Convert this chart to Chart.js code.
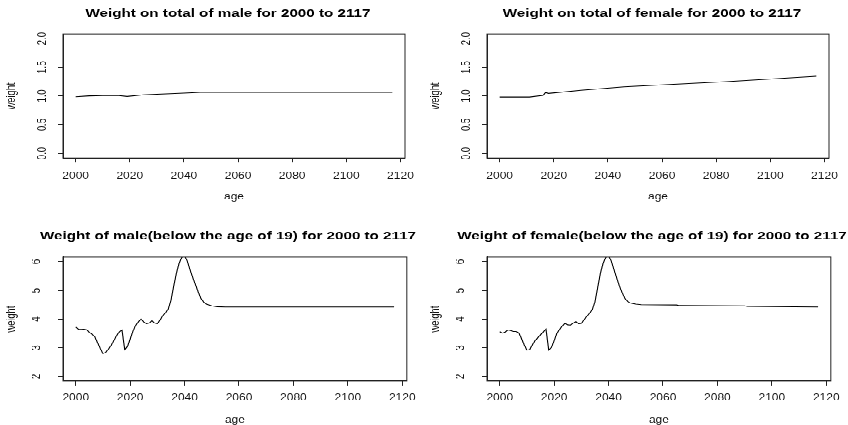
<!DOCTYPE html>
<html>
<head>
<meta charset="utf-8">
<script src="https://cdn.jsdelivr.net/npm/chart.js@4.4.1/dist/chart.umd.min.js"></script>
<style>
  html, body { margin: 0; padding: 0; background: #fff; }
  /* the reference is squashed vertically, so draw tall and scale down */
  #wrap { position: absolute; left: 0; top: 0; width: 848px; height: 552px;
          transform: scaleY(0.77); transform-origin: 0 0; }
  canvas { position: absolute; }
</style>
</head>
<body>
<div id="wrap">
  <canvas id="c1" width="424" height="276" style="left:0;top:0;width:424px;height:276px"></canvas>
  <canvas id="c2" width="424" height="276" style="left:424px;top:0;width:424px;height:276px"></canvas>
  <canvas id="c3" width="424" height="276" style="left:0;top:276px;width:424px;height:276px"></canvas>
  <canvas id="c4" width="424" height="276" style="left:424px;top:276px;width:424px;height:276px"></canvas>
</div>
<script>
const xTicks = [2000, 2020, 2040, 2060, 2080, 2100, 2120];
const totalTicks = [0, 0.5, 1, 1.5, 2];
const youngTicks = [2, 3, 4, 5, 6];

const maleTotalYears = [2000, 2005, 2010, 2016, 2019, 2025, 2035, 2040, 2046, 2117];
const maleTotalValues = [0.985, 1.0, 1.005, 1.005, 0.99, 1.02, 1.04, 1.05, 1.062, 1.062];

const femaleTotalYears = [2000, 2011, 2016, 2017, 2018, 2030, 2046, 2084, 2117];
const femaleTotalValues = [0.98, 0.98, 1.01, 1.06, 1.045, 1.10, 1.16, 1.25, 1.345];

const maleYoungYears = [2000, 2001, 2002, 2003, 2004, 2005, 2006, 2007, 2008, 2009,
  2010, 2011, 2012, 2013, 2014, 2015, 2016, 2017, 2018, 2019,
  2020, 2021, 2022, 2023, 2024, 2025, 2026, 2027, 2028, 2029,
  2030, 2031, 2032, 2033, 2034, 2035, 2036, 2037, 2038, 2039,
  2040, 2041, 2042, 2043, 2044, 2045, 2046, 2047, 2048, 2050,
  2052, 2055, 2117];
const maleYoungValues = [3.72, 3.65, 3.64, 3.65, 3.63, 3.54, 3.47, 3.38, 3.18, 2.98,
  2.80, 2.84, 2.95, 3.08, 3.25, 3.42, 3.55, 3.62, 2.94, 3.04,
  3.30, 3.57, 3.78, 3.90, 4.00, 3.90, 3.84, 3.86, 3.94, 3.86,
  3.84, 3.97, 4.12, 4.22, 4.35, 4.65, 5.15, 5.60, 5.95, 6.15,
  6.20, 6.02, 5.72, 5.45, 5.20, 4.95, 4.72, 4.60, 4.52, 4.46,
  4.43, 4.42, 4.42];

const femaleYoungYears = [2000, 2001, 2002, 2003, 2004, 2005, 2006, 2007, 2008, 2009,
  2010, 2011, 2012, 2013, 2014, 2015, 2016, 2017, 2018, 2019,
  2020, 2021, 2022, 2023, 2024, 2025, 2026, 2027, 2028, 2029,
  2030, 2031, 2032, 2033, 2034, 2035, 2036, 2037, 2038, 2039,
  2040, 2041, 2042, 2043, 2044, 2045, 2046, 2047, 2048, 2050,
  2052, 2065, 2066, 2090, 2091, 2117];
const femaleYoungValues = [3.56, 3.51, 3.55, 3.62, 3.60, 3.57, 3.57, 3.52, 3.32, 3.10,
  2.92, 2.94, 3.10, 3.25, 3.35, 3.45, 3.55, 3.65, 2.92, 3.01,
  3.25, 3.50, 3.64, 3.76, 3.85, 3.80, 3.79, 3.86, 3.91, 3.84,
  3.85, 3.98, 4.10, 4.20, 4.33, 4.60, 5.10, 5.60, 5.95, 6.15,
  6.20, 6.02, 5.72, 5.43, 5.15, 4.92, 4.72, 4.62, 4.56, 4.52,
  4.50, 4.49, 4.47, 4.46, 4.44, 4.42];

const FONT = "'Liberation Sans', Arial, sans-serif";

// R style box round the plot region
const boxPlugin = {
  id: "box",
  afterDraw(chart) {
    const a = chart.chartArea;
    const ctx = chart.ctx;
    ctx.save();
    ctx.strokeStyle = "#222";
    ctx.lineWidth = 1;
    ctx.strokeRect(a.left, a.top, a.right - a.left, a.bottom - a.top);
    ctx.restore();
  }
};

// left padding 32 so the title centres over the plot box (R centres it there)
function makePanel(id, title, years, values, opt) {
  const points = years.map((y, i) => ({ x: y, y: values[i] }));
  return new Chart(document.getElementById(id), {
    type: "line",
    data: {
      datasets: [{
        data: points,
        borderColor: "#000",
        borderWidth: 1.1,
        pointRadius: 0,
        tension: 0,
        fill: false
      }]
    },
    options: {
      responsive: false,
      animation: false,
      events: [],
      layout: { padding: { left: 32, right: 0, top: 0, bottom: 0 } },
      plugins: {
        legend: { display: false },
        tooltip: { enabled: false },
        title: {
          display: true,
          text: title,
          color: "#000",
          font: { family: FONT, size: 15.2, weight: "bold", lineHeight: 1.2 },
          padding: { top: opt.titleTop, bottom: opt.titleBottom }
        }
      },
      scales: {
        x: {
          type: "linear",
          min: 1995.32,
          max: 2121.68,
          afterBuildTicks: (s) => { s.ticks = xTicks.map(v => ({ value: v })); },
          afterFit: (s) => { s.height = opt.xHeight; },
          grid: { drawOnChartArea: false, drawTicks: true, tickLength: 6, color: "#222" },
          border: { display: true, color: "#222" },
          ticks: {
            autoSkip: false, maxRotation: 0, minRotation: 0,
            padding: opt.xTickPad, color: "#111",
            font: { family: FONT, size: 12 },
            callback: (v) => String(v)
          },
          title: {
            display: true, text: "age", color: "#111",
            font: { family: FONT, size: 12, lineHeight: 1 },
            padding: { top: 0, bottom: opt.agePad }
          }
        },
        y: {
          type: "linear",
          min: opt.yMin,
          max: opt.yMax,
          afterBuildTicks: (s) => { s.ticks = opt.yTicks.map(v => ({ value: v })); },
          afterFit: (s) => { s.width = 31; },
          grid: { drawOnChartArea: false, drawTicks: true, tickLength: 5, color: "#222" },
          border: { display: true, color: "#222" },
          ticks: {
            autoSkip: false, minRotation: 90, maxRotation: 90,
            crossAlign: "center", padding: opt.yTickPad, color: "#111",
            font: { family: FONT, size: 12 },
            callback: opt.yFmt
          },
          title: {
            display: true, text: "weight", color: "#111",
            font: { family: FONT, size: 12 },
            padding: { top: -27.2, bottom: 0 }
          }
        }
      }
    },
    plugins: [boxPlugin]
  });
}

const topOpt = {
  titleTop: 9, titleBottom: 16.9, xHeight: 70.8, xTickPad: 10.2, agePad: 14,
  yMin: -0.08, yMax: 2.08, yTicks: totalTicks, yTickPad: 7,
  yFmt: (v) => Number(v).toFixed(1)
};
const bottomOpt = {
  titleTop: 21.3, titleBottom: 18.4, xHeight: 57.1, xTickPad: 8.4, agePad: 0.5,
  yMin: 1.84, yMax: 6.16, yTicks: youngTicks, yTickPad: 17.6,
  yFmt: (v) => String(v)
};

function drawAll() {
  makePanel("c1", "Weight on total of male for 2000 to 2117", maleTotalYears, maleTotalValues, topOpt);
  makePanel("c2", "Weight on total of female for 2000 to 2117", femaleTotalYears, femaleTotalValues, topOpt);
  makePanel("c3", "Weight of male(below the age of 19) for 2000 to 2117", maleYoungYears, maleYoungValues, bottomOpt);
  makePanel("c4", "Weight of female(below the age of 19) for 2000 to 2117", femaleYoungYears, femaleYoungValues, bottomOpt);
}

// make sure the local fonts are ready before the first canvas draws text
Promise.all([
  document.fonts.load("bold 15px 'Liberation Sans'"),
  document.fonts.load("12px 'Liberation Sans'")
]).then(drawAll, drawAll);
</script>
</body>
</html>
